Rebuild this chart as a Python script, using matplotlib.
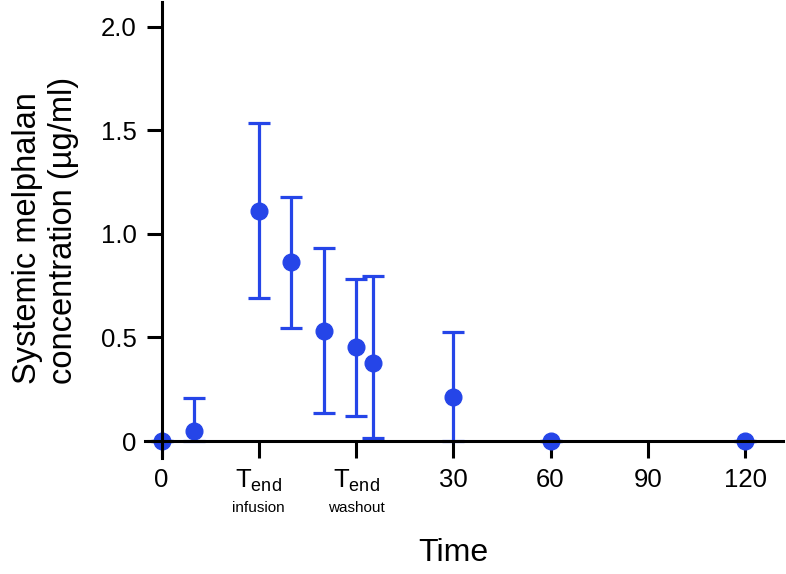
import numpy as np
import matplotlib
matplotlib.use("Agg")
import matplotlib.pyplot as plt
import matplotlib.transforms as mtransforms

plt.rcParams['font.family'] = ['Liberation Sans', 'DejaVu Sans']
plt.rcParams['mathtext.fontset'] = 'custom'
plt.rcParams['mathtext.rm'] = 'Liberation Sans'

# Data (x is the categorical tick position)
tick_pos = [0, 1, 2, 3, 4, 5, 6]
tick_labels = ['0', r'$\mathregular{T_{end}}$', r'$\mathregular{T_{end}}$', '30', '60', '90', '120']
sub_labels = {1: 'infusion', 2: 'washout'}

time_pos = [0, 0.33, 1, 1.33, 1.67, 2, 2.17, 3, 4, 6]
conc = [0, 0.05, 1.11, 0.863, 0.531, 0.453, 0.378, 0.214, 0, 0]
conc_hi = [0, 0.206, 1.538, 1.177, 0.931, 0.781, 0.797, 0.528, 0, 0]
conc_lo = [0, 0, 0.692, 0.544, 0.134, 0.122, 0.013, 0, 0, 0]

y_ticks = [0, 0.5, 1.0, 1.5, 2.0]
y_labels = ['0', '0.5', '1.0', '1.5', '2.0']

blue = '#2545e8'

fig = plt.figure(figsize=(7.86, 5.74), dpi=100)
ax = fig.add_axes([145 / 786, 1 - 458 / 574, 638 / 786, 456 / 574])

c = np.array(conc)
yerr = [c - np.array(conc_lo), np.array(conc_hi) - c]
ax.errorbar(time_pos, conc, yerr=yerr, fmt='o', color=blue, ms=12,
            elinewidth=2.3, capsize=7.8, capthick=2.3, zorder=2)

ax.set_xlim(-0.17, 6.39)
ax.set_ylim(-0.082, 2.12)

for s in ['top', 'right']:
    ax.spines[s].set_visible(False)
ax.spines['left'].set_position(('data', 0))
ax.spines['bottom'].set_position(('data', 0))
ax.spines['left'].set_linewidth(2.2)
ax.spines['bottom'].set_linewidth(2.2)

ax.set_xticks(tick_pos)
ax.set_xticklabels(tick_labels)
ax.set_yticks(y_ticks)
ax.set_yticklabels(y_labels)
ax.tick_params(axis='x', direction='out', length=12.2, width=2.2, pad=7, labelsize=18.5)
ax.tick_params(axis='y', direction='out', length=10.8, width=2.2, pad=7, labelsize=18.5)

trans = mtransforms.blended_transform_factory(ax.transData, fig.transFigure)
for k, txt in sub_labels.items():
    ax.text(k, 1 - 508 / 574, txt, transform=trans, ha='center', va='center', fontsize=11)

ax.set_ylabel('Systemic melphalan\nconcentration (\u00b5g/ml)', fontsize=23.5,
              multialignment='left', linespacing=1.2)
ax.yaxis.set_label_coords(-0.104, 0.5)
ax.set_xlabel('Time', fontsize=23)
ax.xaxis.set_label_coords(0.483, -0.175)

fig.savefig('out.png', dpi=100)
